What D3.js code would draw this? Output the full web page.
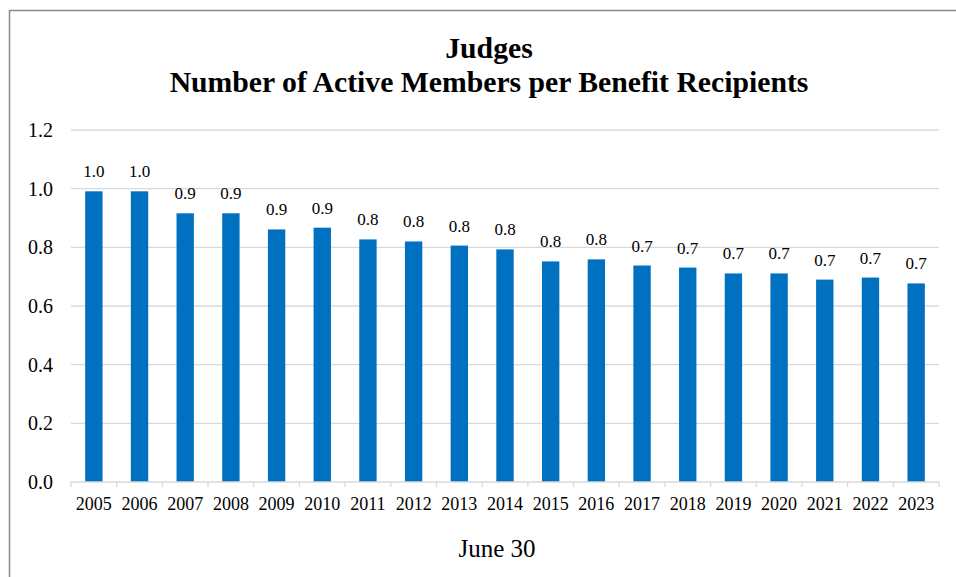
<!DOCTYPE html>
<html>
<head>
<meta charset="utf-8">
<script src="https://cdn.jsdelivr.net/npm/d3@7"></script>
<style>
  body { margin: 0; background: #fff; }
  text { font-family: 'Liberation Serif', 'Times New Roman', serif; fill: #000; }
</style>
</head>
<body>
<div id="chart"></div>
<script>
const years = ['2005', '2006', '2007', '2008', '2009', '2010', '2011', '2012', '2013', '2014',
               '2015', '2016', '2017', '2018', '2019', '2020', '2021', '2022', '2023']
const ratios = [0.991, 0.991, 0.916, 0.916, 0.861, 0.867, 0.827, 0.820, 0.806, 0.793,
                0.752, 0.759, 0.738, 0.731, 0.711, 0.711, 0.690, 0.697, 0.677]
const yTicks = [0, 0.2, 0.4, 0.6, 0.8, 1.0, 1.2]
const titleLines = ['Judges', 'Number of Active Members per Benefit Recipients']
const xTitle = 'June 30'

const W = 956, H = 577
const margin = { top: 130, right: 17, bottom: 95, left: 71 }
const width = W - margin.left - margin.right
const height = 482 - margin.top

const svg = d3.select('#chart').append('svg')
  .attr('width', W)
  .attr('height', H)

// chart area border (runs off the right/bottom of the picture)
svg.append('rect')
  .attr('x', 9.5).attr('y', 10.5)
  .attr('width', 960).attr('height', 600)
  .attr('fill', 'none')
  .attr('stroke', '#8a8a8a')
  .attr('stroke-width', 1.5)

const g = svg.append('g').attr('transform', `translate(${margin.left},${margin.top})`)

const x = d3.scaleBand().domain(years).range([0, width]).paddingInner(0.62).paddingOuter(0.31)
const y = d3.scaleLinear().domain([0, 1.2]).range([height, 0])

// gridlines
g.selectAll('.grid')
  .data(yTicks.slice(1))
  .enter()
  .append('line')
  .attr('x1', 0).attr('x2', width)
  .attr('y1', d => y(d)).attr('y2', d => y(d))
  .attr('stroke', '#d9d9d9')
  .attr('stroke-width', 1.3)

// y labels
g.selectAll('.ylab')
  .data(yTicks)
  .enter()
  .append('text')
  .attr('x', -18)
  .attr('y', d => y(d) + 7)
  .attr('text-anchor', 'end')
  .style('font-size', '20px')
  .text(d => d.toFixed(1))

// bars
g.selectAll('.bar')
  .data(ratios)
  .enter()
  .append('rect')
  .attr('x', (d, i) => x(years[i]))
  .attr('y', d => y(d))
  .attr('width', x.bandwidth())
  .attr('height', d => height - y(d))
  .attr('fill', '#0070c0')

// value labels
g.selectAll('.val')
  .data(ratios)
  .enter()
  .append('text')
  .attr('x', (d, i) => x(years[i]) + x.bandwidth() / 2)
  .attr('y', d => y(d) - 14)
  .attr('text-anchor', 'middle')
  .style('font-size', '17px')
  .text(d => d.toFixed(1))

// x axis line + ticks at band edges
const step = x.step()
g.append('line')
  .attr('x1', 0).attr('x2', width)
  .attr('y1', height).attr('y2', height)
  .attr('stroke', '#d9d9d9')
  .attr('stroke-width', 1.3)

g.selectAll('.xtick')
  .data(d3.range(years.length + 1))
  .enter()
  .append('line')
  .attr('x1', i => i * step).attr('x2', i => i * step)
  .attr('y1', height).attr('y2', height + 5)
  .attr('stroke', '#d9d9d9')
  .attr('stroke-width', 1.3)

g.selectAll('.xlab')
  .data(years)
  .enter()
  .append('text')
  .attr('x', d => x(d) + x.bandwidth() / 2)
  .attr('y', height + 28)
  .attr('text-anchor', 'middle')
  .style('font-size', '18px')
  .text(d => d)

// titles
svg.selectAll('.title')
  .data(titleLines)
  .enter()
  .append('text')
  .attr('x', 489)
  .attr('y', (d, i) => 58 + i * 34)
  .attr('text-anchor', 'middle')
  .style('font-size', '29.7px')
  .style('font-weight', 'bold')
  .text(d => d)

svg.append('text')
  .attr('x', 497)
  .attr('y', 557)
  .attr('text-anchor', 'middle')
  .style('font-size', '25px')
  .text(xTitle)
</script>
</body>
</html>
